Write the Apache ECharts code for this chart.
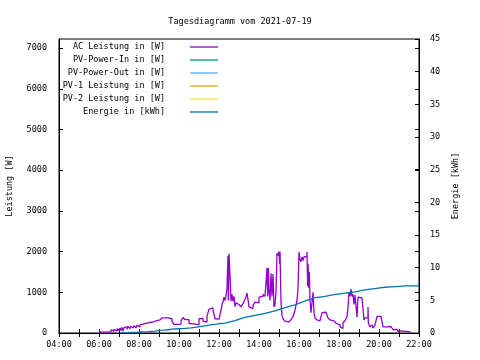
<!DOCTYPE html>
<html><head><meta charset="utf-8">
<script src="https://cdn.jsdelivr.net/npm/echarts@6/dist/echarts.min.js"></script>
<style>html,body{margin:0;padding:0;background:#fff}#c{width:480px;height:360px}</style>
</head><body><div id="c"></div>
<script>
const chartTitle = 'Tagesdiagramm vom 2021-07-19';
const seriesNames = ['AC Leistung in [W]','PV-Power-In in [W]','PV-Power-Out in [W]','PV-1 Leistung in [W]','PV-2 Leistung in [W]','Energie in [kWh]'];
const seriesColors = ['#9400d3','#009e73','#56b4e9','#e69f00','#f0e442','#0072b2'];
const leftAxisName = 'Leistung [W]';
const rightAxisName = 'Energie [kWh]';
const xTickLabels = ['04:00','06:00','08:00','10:00','12:00','14:00','16:00','18:00','20:00','22:00'];

const acTimes = ['06:00','06:03','06:06','06:09','06:12','06:18','06:21','06:27','06:30','06:36','06:39','06:45','06:48','06:54','06:57','07:03','07:06','07:09','07:12','07:15','07:21','07:24','07:27','07:33','07:36','07:42','07:45','07:51','07:54','08:00','08:03','08:09','08:18','08:24','08:33','08:42','08:51','08:57','09:03','09:09','09:18','09:27','09:33','09:39','09:45','09:54','10:00','10:06','10:12','10:18','10:24','10:30','10:39','10:48','10:54','11:00','11:06','11:12','11:18','11:24','11:30','11:36','11:42','11:48','11:54','12:00','12:06','12:09','12:12','12:15','12:18','12:21','12:24','12:27','12:28','12:30','12:33','12:36','12:39','12:42','12:45','12:48','12:51','12:54','13:00','13:06','13:12','13:18','13:21','13:24','13:27','13:30','13:36','13:42','13:48','13:54','14:00','14:06','14:12','14:18','14:24','14:26','14:28','14:30','14:33','14:36','14:39','14:42','14:45','14:48','14:51','14:54','14:57','15:00','15:02','15:03','15:06','15:09','15:12','15:18','15:24','15:30','15:36','15:42','15:48','15:54','15:57','16:00','16:03','16:06','16:09','16:12','16:15','16:21','16:24','16:26','16:27','16:30','16:31','16:33','16:36','16:39','16:42','16:45','16:48','16:54','17:00','17:03','17:09','17:15','17:21','17:24','17:27','17:33','17:39','17:45','17:51','17:57','18:03','18:09','18:12','18:18','18:24','18:27','18:30','18:33','18:36','18:39','18:42','18:45','18:48','18:51','18:54','18:57','19:03','19:09','19:12','19:15','19:18','19:24','19:27','19:28','19:33','19:39','19:42','19:48','19:51','19:54','20:00','20:06','20:09','20:12','20:18','20:24','20:30','20:36','20:42','20:48','20:54','20:57','21:03','21:09','21:15','21:21','21:27','21:33'];
const acValues = [20,50,20,60,20,60,30,70,30,80,40,90,50,110,60,120,60,140,50,130,150,90,160,110,170,120,180,130,190,150,200,230,240,260,270,300,290,320,330,370,370,370,350,280,210,200,220,300,380,330,330,230,220,200,200,350,360,290,270,420,580,620,560,350,340,360,560,700,760,880,800,920,1100,1900,800,1950,1400,780,950,780,900,650,740,700,720,640,720,830,900,980,820,640,600,680,760,740,880,900,950,900,1600,900,1600,1050,800,1470,900,1450,640,700,1000,1960,1900,2000,1700,2000,740,420,350,290,270,270,330,400,560,800,1100,1990,1800,1750,1870,1780,1870,1880,1990,1150,1700,1100,1500,800,500,510,1000,500,370,320,300,330,500,510,480,520,370,320,300,260,240,200,150,110,250,300,400,620,1000,900,1080,900,950,700,930,900,390,880,860,880,870,320,370,380,640,250,150,200,120,200,160,410,410,400,380,150,150,170,160,130,80,90,60,40,50,30,40,30,30,0];

const energyTimes = ['07:09','07:25','07:40','07:55','08:09','08:28','08:48','09:02','09:15','09:27','09:39','09:58','10:18','10:36','10:54','11:06','11:18','11:30','11:40','11:52','12:03','12:18','12:33','12:48','13:03','13:18','13:33','13:48','14:03','14:18','14:33','14:48','15:03','15:18','15:33','15:48','16:03','16:18','16:33','16:48','17:03','17:18','17:33','17:48','18:03','18:18','18:33','18:48','19:03','19:18','19:33','19:48','20:03','20:18','20:33','20:48','21:03','21:18','21:33','22:00'];
const energyValues = [0.05,0.08,0.1,0.15,0.2,0.3,0.4,0.45,0.5,0.58,0.65,0.72,0.8,0.9,1.0,1.1,1.2,1.28,1.35,1.42,1.5,1.7,1.9,2.15,2.4,2.55,2.7,2.85,3.0,3.2,3.4,3.65,3.9,4.1,4.3,4.6,4.9,5.15,5.4,5.5,5.6,5.75,5.9,6.0,6.1,6.2,6.3,6.45,6.6,6.7,6.8,6.9,7.0,7.05,7.1,7.15,7.2,7.2,7.2,7.2];

function toHours(t){const p=t.split(':');return +p[0]+ +p[1]/60;}
const acData = acTimes.map((t,i)=>[toHours(t),acValues[i]]);
const energyData = energyTimes.map((t,i)=>[toHours(t),energyValues[i]]);

const FONT = 'DejaVu Sans Mono';
const FS = 8.5;
const chart = echarts.init(document.getElementById('c'), null, {renderer:'canvas'});
const tickStyle = {show:true, inside:true, length:4, lineStyle:{color:'#000',width:1}};
const series = [
  {name:seriesNames[0], type:'line', step:'end', data:acData, yAxisIndex:0, showSymbol:false, symbol:'none', lineStyle:{color:seriesColors[0],width:1.3}, itemStyle:{color:seriesColors[0]}, z:3},
  {name:seriesNames[1], type:'line', data:[], yAxisIndex:0, symbol:'none', lineStyle:{color:seriesColors[1],width:1.3}, itemStyle:{color:seriesColors[1]}},
  {name:seriesNames[2], type:'line', data:[], yAxisIndex:0, symbol:'none', lineStyle:{color:seriesColors[2],width:1.3}, itemStyle:{color:seriesColors[2]}},
  {name:seriesNames[3], type:'line', data:[], yAxisIndex:0, symbol:'none', lineStyle:{color:seriesColors[3],width:1.3}, itemStyle:{color:seriesColors[3]}},
  {name:seriesNames[4], type:'line', data:[], yAxisIndex:0, symbol:'none', lineStyle:{color:seriesColors[4],width:1.3}, itemStyle:{color:seriesColors[4]}},
  {name:seriesNames[5], type:'line', step:'end', data:energyData, yAxisIndex:1, symbol:'none', lineStyle:{color:seriesColors[5],width:1.3}, itemStyle:{color:seriesColors[5]}, z:4}
];
chart.setOption({
  animation:false,
  backgroundColor:'#fff',
  textStyle:{fontFamily:FONT},
  title:{text:chartTitle, left:'center', top:12, textStyle:{fontFamily:FONT,fontSize:FS,fontWeight:'normal',color:'#000'}},
  grid:{left:59,right:61,top:39,bottom:27,containLabel:false,outerBoundsMode:'none',show:true,borderColor:'#000',borderWidth:1,backgroundColor:'transparent'},
  legend:{
    show:true, orient:'vertical', left:60, top:42.5, padding:0, itemGap:4, align:'right',
    icon:'rect', itemWidth:28, itemHeight:1.3,
    data:seriesNames,
    formatter:n=>'{t|'+n+'}',
    textStyle:{fontFamily:FONT,fontSize:FS,color:'#000',rich:{t:{fontFamily:FONT,fontSize:FS,width:105,align:'right',lineHeight:10,padding:[0,20,0,0]}}}
  },
  xAxis:[
    {type:'value', min:4, max:22, interval:1, position:'bottom',
     axisLine:{show:true,lineStyle:{color:'#000'}}, axisTick:tickStyle, splitLine:{show:false},
     axisLabel:{margin:7, fontFamily:FONT, fontSize:FS, color:'#000', formatter:v=>{const l=xTickLabels.find(s=>toHours(s)===v);return l||'';}}},
    {type:'value', min:4, max:22, interval:1, position:'top',
     axisLine:{show:true,lineStyle:{color:'#000'}}, axisTick:tickStyle, splitLine:{show:false}, axisLabel:{show:false}}
  ],
  yAxis:[
    {type:'value', min:0, max:7225, interval:1000, position:'left', name:leftAxisName, nameLocation:'middle', nameGap:45, nameRotate:90,
     nameTextStyle:{fontFamily:FONT,fontSize:FS,color:'#000'},
     axisLine:{show:true,lineStyle:{color:'#000'}}, axisTick:tickStyle, splitLine:{show:false},
     axisLabel:{margin:12, fontFamily:FONT, fontSize:FS, color:'#000', showMaxLabel:false, formatter:v=>String(v)}},
    {type:'value', min:0, max:45, interval:5, position:'right', name:rightAxisName, nameLocation:'middle', nameGap:32, nameRotate:90,
     nameTextStyle:{fontFamily:FONT,fontSize:FS,color:'#000'},
     axisLine:{show:true,lineStyle:{color:'#000'}}, axisTick:tickStyle, splitLine:{show:false},
     axisLabel:{margin:11, fontFamily:FONT, fontSize:FS, color:'#000', formatter:v=>String(v)}},
    {type:'value', min:0, max:7225, interval:1000, position:'right',
     axisLine:{show:false}, axisTick:tickStyle, splitLine:{show:false}, axisLabel:{show:false}}
  ],
  series:series
});
</script></body></html>
